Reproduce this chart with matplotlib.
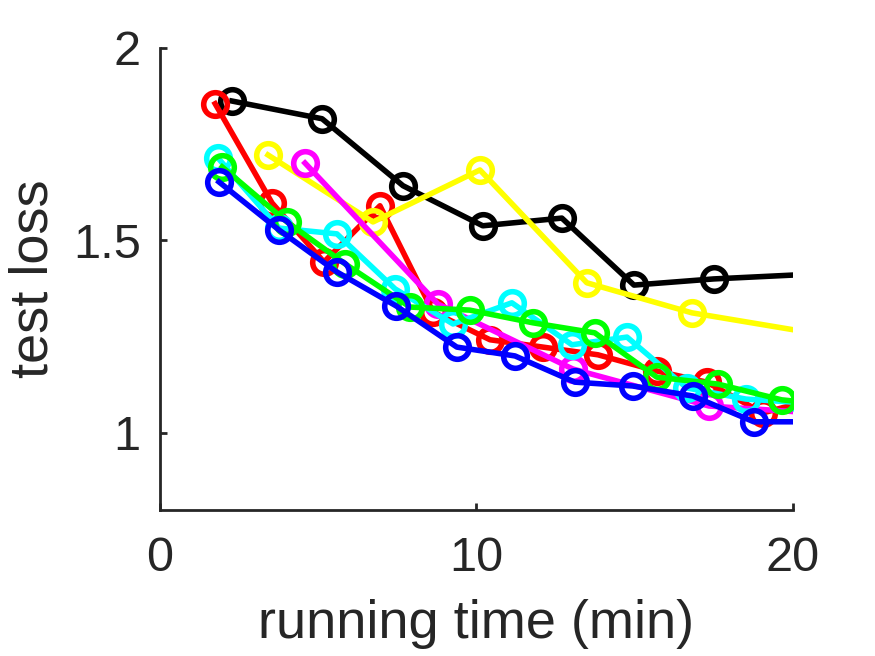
import matplotlib
matplotlib.use("Agg")
import matplotlib.pyplot as plt

plt.rcParams['font.family'] = ['Liberation Sans', 'DejaVu Sans']

# running time (min) and test loss per run; last point of each run lies past 20 min
black_x = [2.27, 5.12, 7.68, 10.2, 12.7, 14.98, 17.5, 22.5]
black_y = [1.862, 1.816, 1.642, 1.538, 1.558, 1.384, 1.400, 1.420]

red_x = [1.74, 3.54, 5.18, 6.95, 8.63, 10.43, 12.1, 13.84, 15.70, 17.28, 19.05, 20.8]
red_y = [1.855, 1.597, 1.444, 1.590, 1.314, 1.242, 1.223, 1.203, 1.161, 1.132, 1.052, 1.090]

yellow_x = [3.41, 6.73, 10.11, 13.49, 16.81, 20.6]
yellow_y = [1.722, 1.548, 1.683, 1.390, 1.312, 1.260]

magenta_x = [4.58, 8.78, 13.05, 17.35, 21.6]
magenta_y = [1.701, 1.335, 1.166, 1.070, 1.047]

cyan_x = [1.83, 3.76, 5.59, 7.43, 9.26, 11.12, 13.02, 14.76, 16.65, 18.52, 20.4]
cyan_y = [1.714, 1.532, 1.517, 1.374, 1.283, 1.338, 1.229, 1.249, 1.117, 1.088, 1.078]

green_x = [1.96, 4.01, 5.85, 7.90, 9.79, 11.79, 13.74, 15.70, 17.63, 19.65, 21.6]
green_y = [1.691, 1.548, 1.439, 1.327, 1.319, 1.286, 1.260, 1.145, 1.127, 1.086, 1.070]

blue_x = [1.86, 3.76, 5.59, 7.46, 9.38, 11.22, 13.11, 14.94, 16.84, 18.77, 20.7]
blue_y = [1.652, 1.527, 1.418, 1.330, 1.223, 1.200, 1.132, 1.122, 1.096, 1.029, 1.029]

runs = [
    (black_x, black_y, '#000000'),
    (red_x, red_y, '#FF0000'),
    (yellow_x, yellow_y, '#FFFF00'),
    (magenta_x, magenta_y, '#FF00FF'),
    (cyan_x, cyan_y, '#00FFFF'),
    (green_x, green_y, '#00FF00'),
    (blue_x, blue_y, '#0000FF'),
]

fig = plt.figure(figsize=(8.75, 6.56), dpi=100)
ax = fig.add_axes([0.183, 0.2226, 0.723, 0.7044])

for xs, ys, c in runs:
    ax.plot(xs, ys, '-o', color=c, lw=4.0, ms=17, mew=4.0,
            mfc='none', mec=c)

ax.set_xlim(0, 20)
ax.set_ylim(0.8, 2)
ax.set_xticks([0, 10, 20])
ax.set_yticks([1, 1.5, 2])
ax.set_yticklabels(['1', '1.5', '2'])

dark = '#262626'
for s in ['top', 'right']:
    ax.spines[s].set_visible(False)
for s in ['left', 'bottom']:
    ax.spines[s].set_color(dark)
    ax.spines[s].set_linewidth(2.0)

ax.tick_params(direction='in', length=5, width=2, colors=dark,
               labelsize=35, pad=14)
ax.tick_params(axis='x', pad=19)
ax.set_xlabel('running time (min)', fontsize=39, color=dark, labelpad=13)
ax.set_ylabel('test loss', fontsize=39, color=dark, labelpad=10)

fig.savefig('out.png', dpi=100)
